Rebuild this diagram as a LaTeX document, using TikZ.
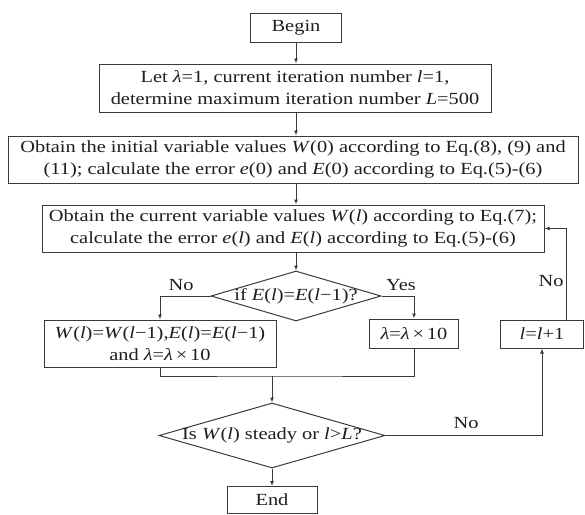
\documentclass[tikz,border=0pt]{standalone}
\usepackage{fontspec}
\setmainfont{Liberation Serif}[FakeStretch=1.2]
\usetikzlibrary{shapes.geometric,arrows.meta}
\definecolor{ln}{HTML}{3A3A3A}
\definecolor{tx}{HTML}{1E1E1E}
\newcommand{\iv}[1]{\textit{#1}}
\begin{document}
\begin{tikzpicture}[x=1pt,y=-1pt,
  every node/.style={text=tx,font=\fontsize{17}{22}\selectfont},
  box/.style={draw=ln,line width=1pt,rectangle,inner sep=0pt,align=center},
  decision/.style={draw=ln,line width=1pt,diamond,inner sep=0pt},
  arr/.style={draw=ln,line width=1pt,-{Latex[length=5pt,width=4pt]}},
  ln/.style={draw=ln,line width=1pt},
  lbl/.style={inner sep=0pt}]
\useasboundingbox (0,0) rectangle (585,514);
\node[box,minimum width=91,minimum height=29] (begin) at (296,27.5) {Begin};
\node[box,minimum width=392,minimum height=48] (init) at (295,88) {Let \iv{λ}=1, current iteration number \iv{l}=1,\\determine maximum iteration number \iv{L}=500};
\node[box,minimum width=570,minimum height=47] (initv) at (293,159.5) {Obtain the initial variable values \iv{W}(0) according to Eq.(8), (9) and\\(11); calculate the error \iv{e}(0) and \iv{E}(0) according to Eq.(5)-(6)};
\node[box,minimum width=502,minimum height=47] (curr) at (293,228.5) {Obtain the current variable values \iv{W}(\iv{l}) according to Eq.(7);\\calculate the error \iv{e}(\iv{l}) and \iv{E}(\iv{l}) according to Eq.(5)-(6)};
\node[decision,minimum width=170,minimum height=50] (dec1) at (296,296) {\makebox[0pt]{if \iv{E}(\iv{l})=\iv{E}(\iv{l}−1)?}};
\node[box,minimum width=232,minimum height=47] (upd) at (160,343.5) {\iv{W}(\iv{l})=\iv{W}(\iv{l}−1),\iv{E}(\iv{l})=\iv{E}(\iv{l}−1)\\and \iv{λ}=\iv{λ}\,×\,10};
\node[box,minimum width=89,minimum height=29] (lam) at (414,333.5) {\iv{λ}=\iv{λ}\,×\,10};
\node[box,minimum width=83,minimum height=28] (inc) at (542,334) {\iv{l}=\iv{l}+1};
\node[decision,minimum width=226,minimum height=65] (dec2) at (272,435.5) {\makebox[0pt]{Is \iv{W}(\iv{l}) steady or \iv{l}>\iv{L}?}};
\node[box,minimum width=90,minimum height=27] (end) at (272,500) {End};
\coordinate (merge) at (272,376);
\coordinate (loopx) at (566,0);
\draw[arr] (begin.south) -- (begin.south |- init.north);
\draw[arr] (begin.south |- init.south) -- (begin.south |- initv.north);
\draw[arr] (begin.south |- initv.south) -- (begin.south |- curr.north);
\draw[arr] (dec1.north |- curr.south) -- (dec1.north);
\draw[arr] (dec1.west) -| (upd.north);
\draw[arr] (dec1.east) -| (lam.north);
\draw[ln] (upd.south) |- (merge) -| (lam.south);
\draw[arr] (merge) -- (dec2.north);
\draw[arr] (dec2.south) -- (end.north);
\draw[arr] (dec2.east) -| (inc.south);
\draw[arr] (inc.north -| loopx) |- (curr.east);
\node[lbl] (no1) at (181,285) {No};
\node[lbl] (yes1) at (401,285) {Yes};
\node[lbl] (no2) at (551,281) {No};
\node[lbl] (no3) at (466,423) {No};
\end{tikzpicture}
\end{document}
